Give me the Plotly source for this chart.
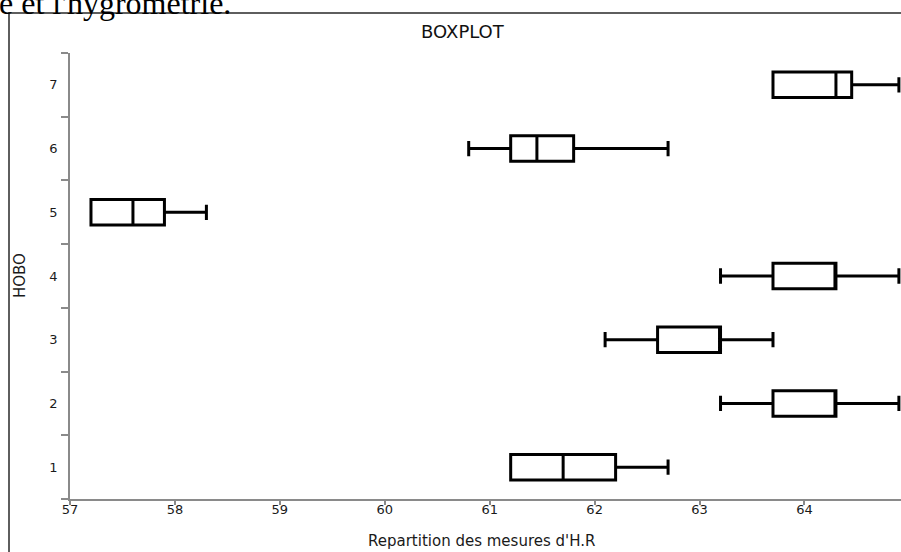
import plotly.graph_objects as go

# ---- data ----
hobo = [1, 2, 3, 4, 5, 6, 7]
hobo_labels = ["1", "2", "3", "4", "5", "6", "7"]
lower = [61.2, 63.2, 62.1, 63.2, 57.2, 60.8, 63.7]
q1 = [61.2, 63.7, 62.6, 63.7, 57.2, 61.2, 63.7]
median = [61.7, 64.3, 63.2, 64.3, 57.6, 61.45, 64.3]
q3 = [62.2, 64.3, 63.2, 64.3, 57.9, 61.8, 64.45]
upper = [62.7, 64.9, 63.7, 64.9, 58.3, 62.7, 64.9]
x_ticks = [57, 58, 59, 60, 61, 62, 63, 64]

W, H = 901, 552
L, R, T, B = 70, 0, 53, 53
PW, PH = W - L - R, H - T - B


def px_x(p):
    return (p - L) / PW


def px_y(p):
    return (H - B - p) / PH


fig = go.Figure()
fig.add_trace(go.Box(
    y=hobo,
    q1=q1, median=median, q3=q3,
    lowerfence=lower, upperfence=upper,
    orientation="h",
    width=0.4,
    whiskerwidth=0.6,
    boxpoints=False,
    fillcolor="white",
    line=dict(color="black", width=3),
    showlegend=False,
    hoverinfo="skip",
))

axis_grey = "#8a8a8a"
tick_font = dict(family="DejaVu Sans", size=13, color="#1a1a1a")
fig.update_layout(
    width=W, height=H,
    margin=dict(l=L, r=R, t=T, b=B, pad=0),
    paper_bgcolor="white", plot_bgcolor="white",
    font=dict(family="DejaVu Sans", size=12, color="#1a1a1a"),
    xaxis=dict(
        range=[57, 64.92], tickvals=x_ticks, ticktext=[str(v) for v in x_ticks],
        ticks="outside", ticklen=4, tickcolor=axis_grey, tickwidth=1.5,
        ticklabelstandoff=-6, tickfont=tick_font,
        showline=True, linecolor=axis_grey, linewidth=1.5,
        showgrid=False, zeroline=False, fixedrange=True,
    ),
    yaxis=dict(
        range=[0.5, 7.5], tickvals=hobo, ticktext=hobo_labels,
        ticks="", ticklabelstandoff=8, tickfont=tick_font,
        minor=dict(tickvals=[0.5, 1.5, 2.5, 3.5, 4.5, 5.5, 6.5, 7.5],
                   ticks="outside", ticklen=7, tickcolor=axis_grey, tickwidth=1.5,
                   showgrid=False),
        showline=True, linecolor=axis_grey, linewidth=1.5,
        showgrid=False, zeroline=False, fixedrange=True,
    ),
    shapes=[dict(
        type="rect", xref="paper", yref="paper",
        x0=px_x(9), x1=px_x(960), y0=px_y(600), y1=px_y(13),
        line=dict(color="#2a2a2a", width=1.5), fillcolor="rgba(0,0,0,0)",
        layer="below",
    )],
    annotations=[
        dict(text="BOXPLOT", xref="paper", yref="paper", x=px_x(463), y=px_y(32),
             xanchor="center", yanchor="middle", showarrow=False,
             font=dict(family="DejaVu Sans", size=18, color="#111111")),
        dict(text="Repartition des mesures d'H.R", xref="paper", yref="paper",
             x=px_x(481), y=px_y(541), xanchor="center", yanchor="middle",
             showarrow=False, font=dict(family="DejaVu Sans", size=15, color="#1a1a1a")),
        dict(text="HOBO", xref="paper", yref="paper", x=px_x(20), y=px_y(276),
             xanchor="center", yanchor="middle", textangle=-90,
             showarrow=False, font=dict(family="DejaVu Sans", size=15, color="#1a1a1a")),
        dict(text="e et l'hygrométrie.", xref="paper", yref="paper",
             x=px_x(233), y=px_y(3), xanchor="right", yanchor="middle",
             showarrow=False, font=dict(family="Liberation Serif", size=32, color="black")),
    ],
)

fig.write_html(
    "out.html",
    config={"displayModeBar": False},
    post_script="document.body.style.margin='0';document.body.style.overflow='hidden';",
)
